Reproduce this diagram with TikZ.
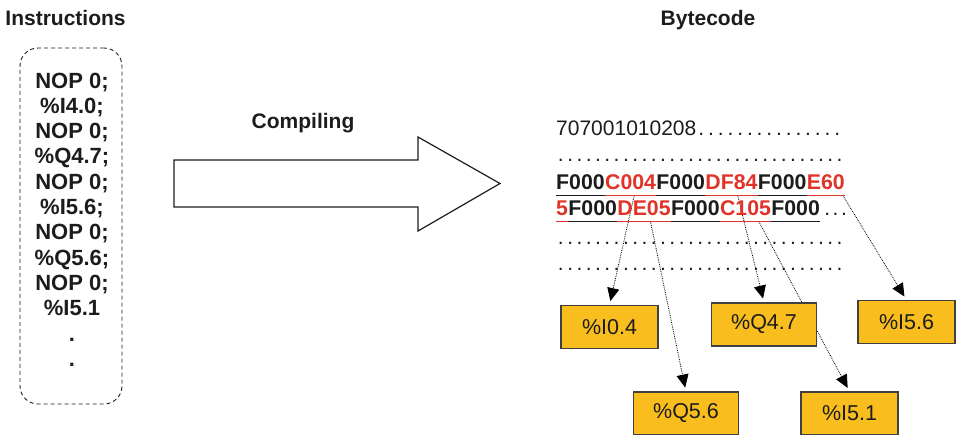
\documentclass[tikz,border=0pt]{standalone}
\usepackage{fontspec}
\setmainfont{Liberation Sans}
\usetikzlibrary{arrows.meta,calc,backgrounds}
\definecolor{inktext}{RGB}{28,28,28}
\definecolor{bytered}{RGB}{224,52,40}
\definecolor{boxgold}{RGB}{249,190,30}
\definecolor{boxline}{RGB}{64,64,64}
\newcommand\dotrow[1]{\hbox to #1{\xleaders\hbox to 9.2pt{\hss.\hss}\hfill}}

\begin{document}
\begin{tikzpicture}[x=1pt,y=-1pt]
            \tikzstyle{title} = [font=\fontsize{21}{24}\selectfont\bfseries, anchor=base, inner sep=0pt, text=inktext]
            \tikzstyle{instr} = [font=\fontsize{22}{25}\selectfont\bfseries, anchor=base, inner sep=0pt, text=inktext]
            \tikzstyle{seg} = [font=\fontsize{21.3}{24}\selectfont\bfseries, inner sep=0pt, text depth=6pt, anchor=base west]
            \tikzstyle{plain} = [font=\fontsize{21}{24}\selectfont, inner sep=0pt, anchor=base west, text=inktext]
            \tikzstyle{ul} = [line width=1.4pt]
            \tikzstyle{listframe} = [draw=inktext, dashed, dash pattern=on 4pt off 3pt, line width=0.9pt, rounded corners=18pt, inner sep=0pt]
            \tikzstyle{valbox} = [draw=boxline, fill=boxgold, line width=1.1pt, minimum height=43pt, minimum width=97pt, inner xsep=20pt, font=\fontsize{21.5}{24}\selectfont, text=inktext]
            \tikzstyle{link} = [densely dotted, line width=0.8pt, -{Triangle[length=13pt,width=12pt]}, shorten >=4pt]
            \useasboundingbox (0,0) rectangle (957,434);

            \node[title] (instrtitle) at (65.5,25) {Instructions};
            \node[title] (bytetitle) at (708,25) {Bytecode};
            \node[title] (compiling) at (303,128) {Compiling};

            \node[listframe, minimum width=102pt, minimum height=356pt] (listbox) at (71,226) {};
            \foreach \ins [count=\k from 0] in {NOP 0;, \%I4.0;, NOP 0;, \%Q4.7;, NOP 0;, \%I5.6;, NOP 0;, \%Q5.6;, NOP 0;, \%I5.1, ., .}
                \node[instr] (ins\k) at (72, 88+25.3*\k) {\ins};

            \draw[line width=1.2pt, draw=inktext] (174,160) -- (418,160) -- (418,137) -- (500,183.5)
                -- (418,231) -- (418,207) -- (174,207) -- cycle;

            \node[plain] (hdr) at (556,135) {707001010208\dotrow{146pt}};
            \node[plain] (dots1) at (556,161) {\dotrow{288pt}};

            \node[seg, text=inktext] (r1s1) at (556,189.5) {F000};
            \draw[ul, inktext] (r1s1.south west) -- (r1s1.south east);
            \foreach \txt/\col [count=\i from 2, remember=\i as \j (initially 1)] in {C004/bytered, F000/inktext, DF84/bytered, F000/inktext, E60/bytered} {
                \node[seg, text=\col] (r1s\i) at (r1s\j.base east) {\txt};
                \draw[ul, \col] (r1s\i.south west) -- (r1s\i.south east);
            }

            \node[seg, text=bytered] (r2s1) at (556,215.5) {5};
            \draw[ul, bytered] (r2s1.south west) -- (r2s1.south east);
            \foreach \txt/\col [count=\i from 2, remember=\i as \j (initially 1)] in {F000/inktext, DE05/bytered, F000/inktext, C105/bytered, F000/inktext} {
                \node[seg, text=\col] (r2s\i) at (r2s\j.base east) {\txt};
                \draw[ul, \col] (r2s\i.south west) -- (r2s\i.south east);
            }
            \node[plain] (r2more) at (r2s6.base east) {\kern4pt.\kern2.6pt.\kern2.6pt.};

            \node[plain] (dots2) at (556,244) {\dotrow{288pt}};
            \node[plain] (dots3) at (556,270) {\dotrow{288pt}};

            \node[valbox] (i04) at (609.5,327) {\%I0.4};
            \node[valbox] (q47) at (764,324.5) {\%Q4.7};
            \node[valbox] (i56) at (906.5,322) {\%I5.6};
            \node[valbox] (q56) at (686,413.5) {\%Q5.6};
            \node[valbox] (i51) at (849.5,413.5) {\%I5.1};

            \begin{scope}[on background layer]
                \draw[link] ($(r1s2.south west)!0.57!(r1s2.south east)$) -- (i04.north);
                \draw[link] ($(r2s3.south west)!0.62!(r2s3.south east)$) -- (q56.north);
                \draw[link] ($(r1s4.south west)!0.62!(r1s4.south east)$) -- (q47.north);
                \draw[link] ($(r2s5.south west)!0.76!(r2s5.south east)$) -- (i51.north);
                \draw[link] ($(r1s6.south west)!0.95!(r1s6.south east)$) -- (i56.north);
            \end{scope}
        \end{tikzpicture}
\end{document}
